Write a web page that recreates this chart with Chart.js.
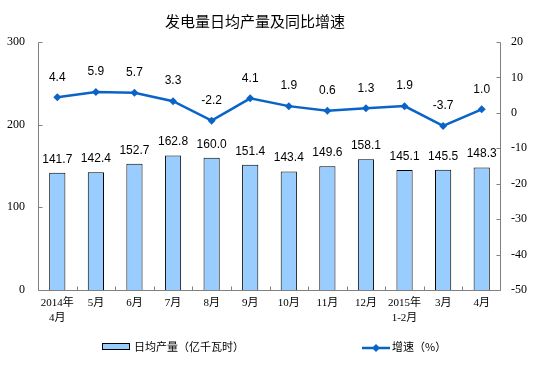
<!DOCTYPE html>
<html><head><meta charset="utf-8">
<script src="https://cdn.jsdelivr.net/npm/chart.js@4"></script>
<style>html,body{margin:0;padding:0;background:#fff;}canvas{display:block;}</style>
</head><body>
<canvas id="c" width="554" height="382"></canvas>
<script>
const categories = [['2014年','4月'],'5月','6月','7月','8月','9月','10月','11月','12月',['2015年','1-2月'],'3月','4月'];
const outputValues = [141.7,142.4,152.7,162.8,160.0,151.4,143.4,149.6,158.1,145.1,145.5,148.3];
const growthValues = [4.4,5.9,5.7,3.3,-2.2,4.1,1.9,0.6,1.3,1.9,-3.7,1.0];
const leftTicks = [0,100,200,300];
const rightTicks = [-50,-40,-30,-20,-10,0,10,20];
const titleText = '发电量日均产量及同比增速';
const barLegend = '日均产量（亿千瓦时）';
const lineLegend = '增速（%）';

const BLUE = '#0A64C8';
const CJK = '"Noto Sans CJK SC", sans-serif';

const decor = {
  id: 'decor',
  afterDatasetsDraw(chart) {
    const ctx = chart.ctx;
    const a = chart.chartArea;
    const x = chart.scales.x, yl = chart.scales.y, yr = chart.scales.y1;
    ctx.save();
    ctx.strokeStyle = '#808080';
    ctx.lineWidth = 1;
    const L = Math.round(a.left) + 0.5, R = Math.round(a.right) - 0.5, B = Math.round(a.bottom) + 0.5, T = Math.round(a.top) + 0.5;
    ctx.beginPath();
    ctx.moveTo(L, T); ctx.lineTo(L, B); ctx.lineTo(R, B); ctx.lineTo(R, T);
    leftTicks.forEach(v => { const y = Math.round(yl.getPixelForValue(v)) + 0.5; ctx.moveTo(L, y); ctx.lineTo(L + 4, y); });
    rightTicks.forEach(v => { const y = Math.round(yr.getPixelForValue(v)) + 0.5; ctx.moveTo(R - 4, y); ctx.lineTo(R, y); });
    const n = categories.length;
    for (let i = 1; i < n; i++) {
      const px = Math.round((x.getPixelForValue(i - 1) + x.getPixelForValue(i)) / 2) + 0.5;
      ctx.moveTo(px, B); ctx.lineTo(px, B - 4);
    }
    ctx.stroke();

    ctx.fillStyle = '#000';
    ctx.font = '12px "Liberation Sans", Arial, sans-serif';
    ctx.textAlign = 'center';
    ctx.textBaseline = 'alphabetic';
    chart.getDatasetMeta(0).data.forEach((el, i) => {
      ctx.fillText(outputValues[i].toFixed(1), el.x, el.y - 10);
    });
    ctx.textBaseline = 'middle';
    chart.getDatasetMeta(1).data.forEach((el, i) => {
      ctx.fillText(growthValues[i].toFixed(1), el.x, el.y - 20);
    });

    ctx.font = '15px ' + CJK;
    ctx.fillText(titleText, 255, 21);

    ctx.fillStyle = '#99CCFF';
    ctx.fillRect(102, 343, 28, 7);
    ctx.strokeStyle = '#000';
    ctx.strokeRect(102.5, 343.5, 27, 6);
    ctx.fillStyle = '#000';
    ctx.font = '11px ' + CJK;
    ctx.textAlign = 'left';
    ctx.fillText(barLegend, 134, 347);
    ctx.strokeStyle = BLUE;
    ctx.lineWidth = 2.5;
    ctx.beginPath(); ctx.moveTo(362, 348); ctx.lineTo(390, 348); ctx.stroke();
    ctx.fillStyle = BLUE;
    ctx.beginPath(); ctx.moveTo(376, 344); ctx.lineTo(380, 348); ctx.lineTo(376, 352); ctx.lineTo(372, 348); ctx.closePath(); ctx.fill();
    ctx.fillStyle = '#000';
    ctx.fillText(lineLegend, 392, 347);
    ctx.restore();
  }
};

new Chart(document.getElementById('c'), {
  data: {
    labels: categories,
    datasets: [
      { type: 'bar', data: outputValues, yAxisID: 'y', backgroundColor: '#99CCFF', borderColor: '#000', borderWidth: 1,
        categoryPercentage: 1, barPercentage: 0.42, order: 2 },
      { type: 'line', data: growthValues, yAxisID: 'y1', borderColor: BLUE, backgroundColor: BLUE, borderWidth: 2.5,
        pointStyle: 'rectRot', pointRadius: 4, pointBackgroundColor: BLUE, pointBorderColor: BLUE, pointBorderWidth: 0, tension: 0, order: 1 }
    ]
  },
  options: {
    responsive: false, animation: false, devicePixelRatio: 1,
    layout: { padding: { top: 42, left: 0, right: 0, bottom: 0 } },
    plugins: { legend: { display: false }, tooltip: { enabled: false }, title: { display: false } },
    scales: {
      x: {
        offset: true,
        grid: { display: false, drawTicks: false }, border: { display: false },
        ticks: { color: '#000', font: { size: 11, family: '"Liberation Serif", "Noto Sans CJK SC", serif', lineHeight: 1.35 }, padding: 6, maxRotation: 0, autoSkip: false },
        afterFit(s) { s.height = 92; }
      },
      y: {
        position: 'left', min: 0, max: 300,
        afterBuildTicks(s) { s.ticks = leftTicks.map(v => ({ value: v })); },
        grid: { display: false, drawTicks: false }, border: { display: false },
        ticks: { color: '#000', font: { size: 12, family: '"Liberation Serif", serif' }, padding: 13 },
        afterFit(s) { s.width = 38; }
      },
      y1: {
        position: 'right', min: -50, max: 20,
        afterBuildTicks(s) { s.ticks = rightTicks.map(v => ({ value: v })); },
        grid: { display: false, drawTicks: false }, border: { display: false },
        ticks: { color: '#000', font: { size: 12, family: '"Liberation Serif", serif' }, padding: 10 },
        afterFit(s) { s.width = 53; }
      }
    }
  },
  plugins: [decor]
});
</script>
</body></html>
